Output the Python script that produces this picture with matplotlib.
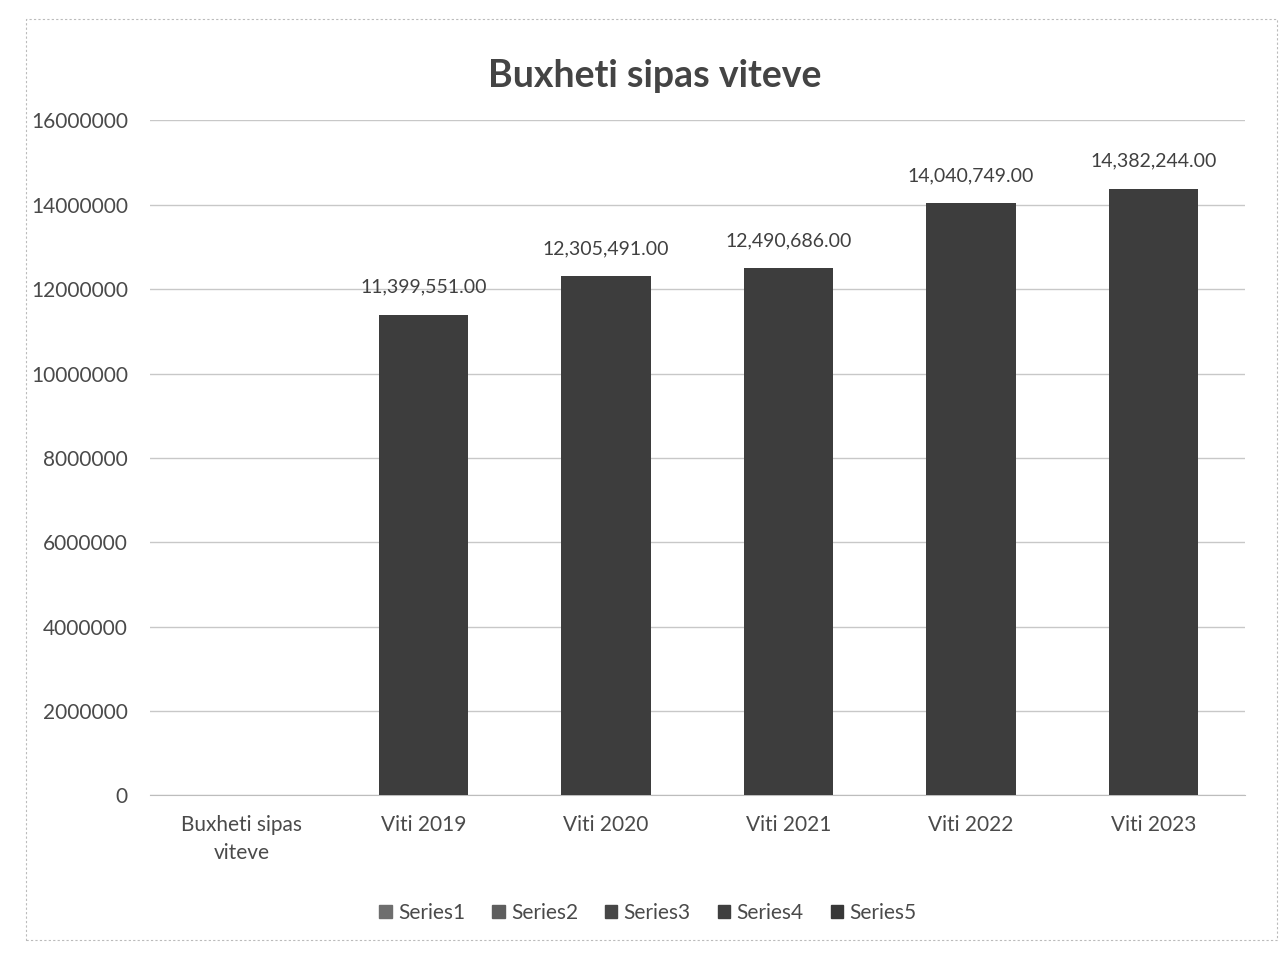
import matplotlib.pyplot as plt
from matplotlib.patches import Rectangle

# Chart data
categories = ['Buxheti sipas\nviteve', 'Viti 2019', 'Viti 2020', 'Viti 2021', 'Viti 2022', 'Viti 2023']
series_names = ['Series1', 'Series2', 'Series3', 'Series4', 'Series5']
series_values = [11399551.00, 12305491.00, 12490686.00, 14040749.00, 14382244.00]
series_colors = ['#6e6e6e', '#5e5e5e', '#474747', '#3f3f3f', '#383838']
bar_color = '#3d3d3d'

plt.rcParams['font.family'] = ['Lato', 'DejaVu Sans']

fig = plt.figure(figsize=(12.83, 9.56), dpi=100)
ax = fig.add_axes([0.117, 0.168, 0.853, 0.706])

# Each series only has a value in its own year (category 1..5)
for i, (name, val, col) in enumerate(zip(series_names, series_values, series_colors)):
    x = i + 1
    ax.bar(x, val, width=0.49, color=bar_color, label=name, zorder=3)
    ax.text(x, val + 450000, '{:,.2f}'.format(val), ha='center', va='bottom',
            fontsize=14, color='#404040', zorder=4)

ax.set_xlim(-0.5, len(categories) - 0.5)
ax.set_ylim(0, 16000000)
ax.set_yticks(range(0, 16000001, 2000000))
ax.set_yticklabels([str(v) for v in range(0, 16000001, 2000000)])
ax.set_xticks(range(len(categories)))
ax.set_xticklabels(categories, linespacing=1.5)

ax.grid(axis='y', color='#c8c8c8', linewidth=1, zorder=0)
for side in ['top', 'right', 'left']:
    ax.spines[side].set_visible(False)
ax.spines['bottom'].set_color('#bdbdbd')
ax.tick_params(axis='y', length=0, labelsize=15, labelcolor='#4a4a4a', pad=16)
ax.tick_params(axis='x', length=0, labelsize=15, labelcolor='#4a4a4a', pad=14)

fig.text(0.51, 0.921, 'Buxheti sipas viteve', ha='center', va='center',
         fontsize=27, fontweight='bold', color='#444444')

# Legend uses the per-series shades
handles = [Rectangle((0, 0), 1, 1, color=c) for c in series_colors]
fig.legend(handles, series_names, loc='center', bbox_to_anchor=(0.505, 0.045),
           ncol=5, frameon=False, fontsize=15, handlelength=0.6, handleheight=0.6,
           handletextpad=0.3, columnspacing=1.3, labelcolor='#4a4a4a')

# Dashed chart border as in the printed chart
fig.patches.append(Rectangle((0.02, 0.017), 0.975, 0.963, transform=fig.transFigure,
                             fill=False, edgecolor='#bbbbbb', linestyle=(0, (2, 2)),
                             linewidth=0.8))

fig.savefig('out.png', dpi=100, facecolor='white')
